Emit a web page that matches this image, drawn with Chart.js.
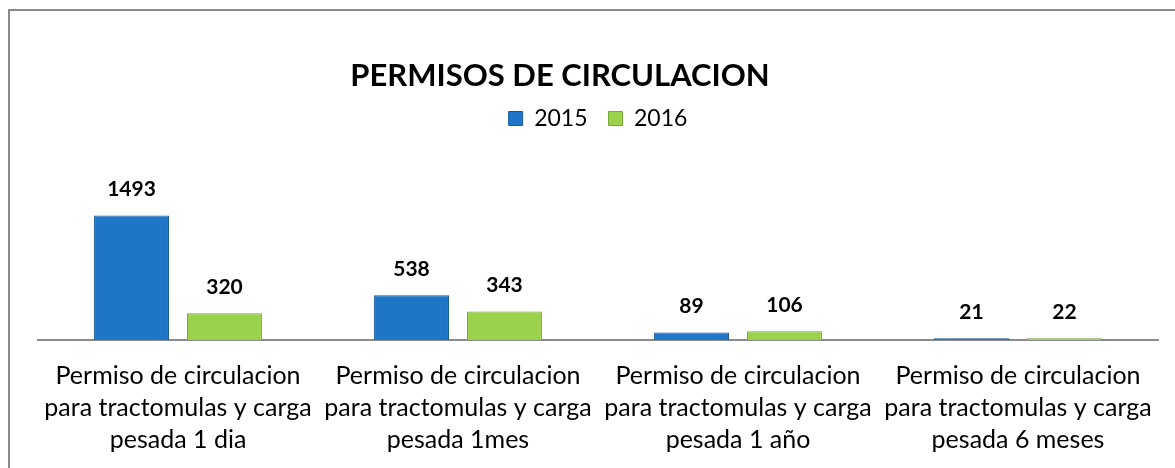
<!DOCTYPE html>
<html lang="es">
<head>
<meta charset="UTF-8">
<title>Permisos de circulacion</title>
<script src="https://cdn.jsdelivr.net/npm/chart.js"></script>
<style>
    html, body { margin: 0; padding: 0; background: #fff; }
    .chart-box { position: relative; width: 1175px; height: 468px; }
</style>
</head>
<body>
<div class="chart-box">
    <canvas id="permisosChart" width="1175" height="468"></canvas>
</div>
<script>
// Datos
const chartTitle = 'PERMISOS DE CIRCULACION';
const categorias = [
    ['Permiso de circulacion', 'para tractomulas y carga', 'pesada 1 dia'],
    ['Permiso de circulacion', 'para tractomulas y carga', 'pesada 1mes'],
    ['Permiso de circulacion', 'para tractomulas y carga', 'pesada 1 año'],
    ['Permiso de circulacion', 'para tractomulas y carga', 'pesada 6 meses']
];
const series = ['2015', '2016'];
const valores2015 = [1493, 538, 89, 21];
const valores2016 = [320, 343, 106, 22];

// Marco gris alrededor del grafico
const marco = {
    id: 'marco',
    beforeDraw(chart) {
        const ctx = chart.ctx;
        ctx.save();
        ctx.fillStyle = '#fff';
        ctx.fillRect(0, 0, chart.width, chart.height);
        ctx.strokeStyle = '#8a8a8a';
        ctx.lineWidth = 2;
        ctx.strokeRect(9, 10, chart.width + 20, chart.height + 20);
        ctx.restore();
    }
};

// Titulo (un poco a la izquierda del centro, como en el original)
const titulo = {
    id: 'titulo',
    afterDraw(chart) {
        const ctx = chart.ctx;
        ctx.save();
        ctx.font = 'bold 31px Lato, "Open Sans", sans-serif';
        ctx.fillStyle = '#000';
        ctx.textAlign = 'center';
        ctx.textBaseline = 'middle';
        ctx.fillText(chartTitle, 560, 76);
        ctx.restore();
    }
};

// Etiquetas de valor encima de cada barra
const etiquetas = {
    id: 'etiquetas',
    afterDatasetsDraw(chart) {
        const ctx = chart.ctx;
        ctx.save();
        ctx.font = 'bold 21px Lato, "Open Sans", sans-serif';
        ctx.fillStyle = '#000';
        ctx.textAlign = 'center';
        ctx.textBaseline = 'middle';
        chart.data.datasets.forEach((ds, i) => {
            chart.getDatasetMeta(i).data.forEach((bar, j) => {
                ctx.fillText(ds.data[j], bar.x, bar.y - 26);
            });
        });
        ctx.restore();
    }
};

const ctx = document.getElementById('permisosChart').getContext('2d');
new Chart(ctx, {
    type: 'bar',
    data: {
        labels: categorias,
        datasets: [{
            label: series[0],
            data: valores2015,
            backgroundColor: '#1f76c8',
            borderColor: '#175a9c',
            borderWidth: 1,
            categoryPercentage: 0.664,
            barPercentage: 0.806
        }, {
            label: series[1],
            data: valores2016,
            backgroundColor: '#9bd24c',
            borderColor: '#78a838',
            borderWidth: 1,
            categoryPercentage: 0.664,
            barPercentage: 0.806
        }]
    },
    options: {
        responsive: false,
        animation: false,
        layout: {
            padding: { left: 38, right: 17, top: 86, bottom: 0 }
        },
        scales: {
            x: {
                grid: { display: false, drawTicks: false },
                border: { display: true, color: '#8c8c8c', width: 2 },
                ticks: {
                    color: '#000',
                    padding: 20,
                    maxRotation: 0,
                    autoSkip: false,
                    font: { family: 'Lato, "Open Sans", sans-serif', size: 25, lineHeight: 32 / 25 }
                },
                afterFit(scale) { scale.height = 128; }
            },
            y: {
                display: false,
                min: 0,
                max: 2400
            }
        },
        plugins: {
            legend: {
                position: 'top',
                labels: {
                    color: '#000',
                    boxWidth: 14,
                    boxHeight: 14,
                    padding: 21,
                    font: { family: 'Lato, "Open Sans", sans-serif', size: 23 }
                }
            },
            tooltip: { enabled: false }
        }
    },
    plugins: [marco, titulo, etiquetas]
});
</script>
</body>
</html>
